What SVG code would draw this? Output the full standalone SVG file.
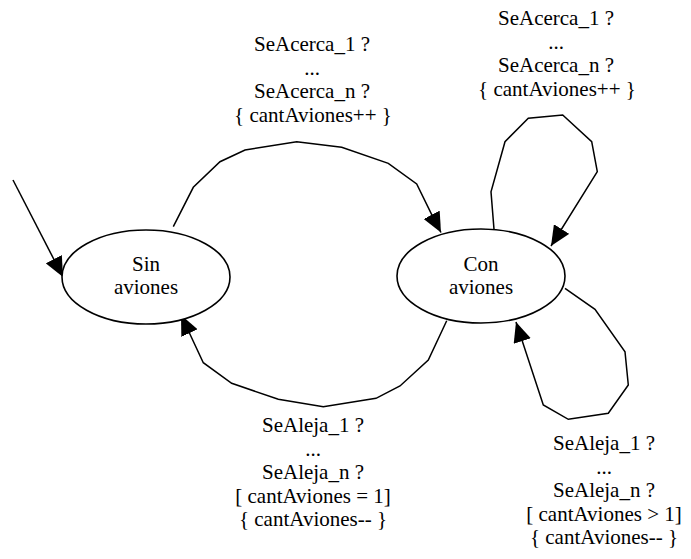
<svg xmlns="http://www.w3.org/2000/svg" width="691" height="559" viewBox="0 0 691 559" font-family="Liberation Serif, serif" font-size="21">
<style>
text{fill:#000;text-anchor:middle}
.e{fill:none;stroke:#000;stroke-width:1.5}
.n{fill:#fff;stroke:#000;stroke-width:1.6}
</style>
<defs>
<marker id="ah" markerUnits="userSpaceOnUse" markerWidth="20" markerHeight="18" viewBox="0 0 20 18" refX="20" refY="9" orient="auto">
<path d="M0,0 L20,9 L0,18 z" fill="#000"/>
</marker>
</defs>
<g id="connectors">
<polyline class="e" marker-end="url(#ah)" points="13,180 63,277"/>
<polyline class="e" marker-end="url(#ah)" points="173.3,226.7 193.3,187.3 220,161.7 245,150 296.7,141.7 341.7,147.3 388.3,163.3 416.7,184 432.7,216.7 441,232.5"/>
<polyline class="e" marker-end="url(#ah)" points="446.7,320.7 428.3,360 400,386 376,398.3 323.3,406.7 278.3,399.3 231.7,383.3 203.3,362.7 189.3,332.7 181,315"/>
<polyline class="e" marker-end="url(#ah)" points="494,229.3 491,191.7 505,141.7 528.3,118.3 562.7,115 591.7,141.7 597.3,171.7 551,246"/>
<polyline class="e" marker-end="url(#ah)" points="565,288.3 595,309.3 625,351.7 628.3,385 608.3,413.3 568.3,419.3 543.3,405 516,322"/>
</g>
<g id="labels" font-family="Liberation Serif, serif" font-size="21">
<text x="312" y="51">SeAcerca_1 ?</text>
<text x="312" y="74.5">...</text>
<text x="312" y="98">SeAcerca_n ?</text>
<text x="313" y="121.5">{ cantAviones++ }</text>
<text x="556" y="25">SeAcerca_1 ?</text>
<text x="556" y="48.5">...</text>
<text x="556" y="72">SeAcerca_n ?</text>
<text x="557" y="95.5">{ cantAviones++ }</text>
<text x="313" y="432">SeAleja_1 ?</text>
<text x="313" y="455.5">...</text>
<text x="313" y="479">SeAleja_n ?</text>
<text x="313" y="502.5">[ cantAviones = 1]</text>
<text x="313" y="526">{ cantAviones-- }</text>
<text x="604" y="450">SeAleja_1 ?</text>
<text x="604" y="473.5">...</text>
<text x="604" y="497">SeAleja_n ?</text>
<text x="604" y="520.5">[ cantAviones &gt; 1]</text>
<text x="604" y="544">{ cantAviones-- }</text>
</g>
<g id="sin" font-family="Liberation Serif, serif" font-size="21">
<ellipse class="n" cx="146" cy="277" rx="84" ry="47"/>
<text x="146" y="270.5">Sin</text>
<text x="146" y="294">aviones</text>
</g>
<g id="con" font-family="Liberation Serif, serif" font-size="21">
<ellipse class="n" cx="481" cy="276" rx="84" ry="47"/>
<text x="481" y="270.5">Con</text>
<text x="481" y="294">aviones</text>
</g>
</svg>
